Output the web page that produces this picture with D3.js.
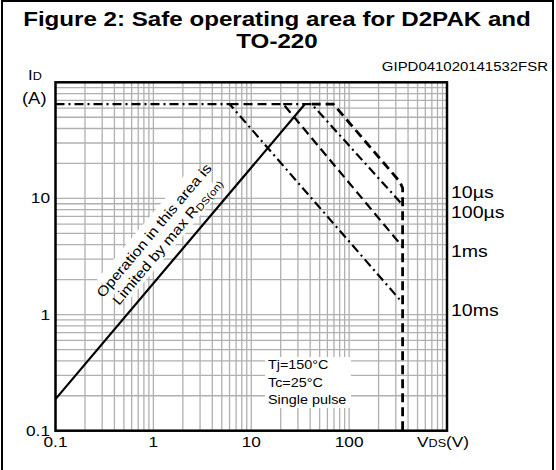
<!DOCTYPE html>
<html>
<head>
<meta charset="utf-8">
<script src="https://cdn.jsdelivr.net/npm/d3@7"></script>
<style>
  body { margin: 0; background: #fff; }
  text { font-family: "Liberation Sans", Arial, sans-serif; fill: #000; }
</style>
</head>
<body>
<div id="chart"></div>
<script>
// tick values
var xTicks = [0.1, 1, 10, 100];
var yTicks = [0.1, 1, 10];
var xTickLabels = ["0.1", "1", "10", "100"];
var yTickLabels = ["0.1", "1", "10"];

// limit lines, [VDS, ID]
var rdsLimit = [[0.1, 0.187], [35.4, 65]];
var curve10us = [[41.4, 65], [68.9, 65], [330, 13.9], [352, 12.3], [352, 0.1]];
var curve100us = [[21.2, 65], [41.4, 65], [352, 8.8]];
var curve1ms = [[6.0, 65], [21.2, 65], [352, 3.83]];
var curve10ms = [[0.1, 65], [6.0, 65], [352, 1.26]];

// curve labels on the right
var pulseLabels = ["10\u00b5s", "100\u00b5s", "1ms", "10ms"];
var pulseLabelY = [11.4, 7.66, 3.53, 1.1];

var svgWidth = 556, svgHeight = 470;
var sx = 1.15; // the reference text is stretched sideways

var svg = d3.select("#chart").append("svg")
  .attr("width", svgWidth)
  .attr("height", svgHeight);

var x = d3.scaleLog().domain([0.1, 1000]).range([55.5, 447]);
var y = d3.scaleLog().domain([0.1, 100]).range([430.7, 82.3]);

function label(x0, y0, size, anchor, weight) {
  return svg.append("text")
    .attr("transform", `translate(${x0},${y0}) scale(${sx},1)`)
    .attr("font-size", size)
    .attr("font-weight", weight || "normal")
    .attr("text-anchor", anchor || "start");
}

// outer frame
svg.append("rect")
  .attr("x", 2).attr("y", 1)
  .attr("width", 551).attr("height", 490)
  .attr("fill", "none").attr("stroke", "#000").attr("stroke-width", 2);

// title
label(277, 26, 21, "middle", "bold").text("Figure 2: Safe operating area for D2PAK and");
label(277, 48, 21, "middle", "bold").text("TO-220");
label(548, 71, 13, "end").text("GIPD041020141532FSR");

// grid
var gridX = [], gridY = [];
[0.1, 1, 10, 100].forEach(function(d) {
  for (var m = 1; m <= 9; m++) gridX.push(d * m);
});
[0.1, 1, 10].forEach(function(d) {
  for (var m = 1; m <= 9; m++) gridY.push(d * m);
});

var grid = svg.append("g")
  .attr("stroke", "#b0b0b0")
  .attr("stroke-width", 1.3);

grid.selectAll(".gx").data(gridX).enter().append("line")
  .attr("x1", d => x(d)).attr("x2", d => x(d))
  .attr("y1", y.range()[0]).attr("y2", y.range()[1]);

grid.selectAll(".gy").data(gridY).enter().append("line")
  .attr("y1", d => y(d)).attr("y2", d => y(d))
  .attr("x1", x.range()[0]).attr("x2", x.range()[1]);

// white boxes behind the notes
svg.append("rect")
  .attr("x", 265).attr("y", 357)
  .attr("width", 86).attr("height", 51)
  .attr("fill", "#fff");

var note = svg.append("g")
  .attr("transform", "translate(163,238) rotate(-49.9)");
note.append("rect")
  .attr("x", -74).attr("y", -24)
  .attr("width", 148).attr("height", 38)
  .attr("fill", "#fff");

// limit lines
var line = d3.line()
  .x(d => x(d[0]))
  .y(d => y(d[1]));

var curves = svg.append("g")
  .attr("fill", "none")
  .attr("stroke", "#000")
  .attr("stroke-width", 2.2);

curves.append("path").datum(rdsLimit)
  .attr("d", line);

curves.append("path").datum(curve10ms)
  .attr("d", line)
  .attr("stroke-dasharray", "9,4,2,4");

curves.append("path").datum(curve1ms)
  .attr("d", line)
  .attr("stroke-dasharray", "9,5");

curves.append("path").datum(curve100us)
  .attr("d", line)
  .attr("stroke-dasharray", "9,4,2,4");

curves.append("path").datum(curve10us)
  .attr("d", line)
  .attr("stroke-width", 2.8)
  .attr("stroke-dasharray", "9,5");

// plot frame
svg.append("rect")
  .attr("x", x.range()[0]).attr("y", y.range()[1])
  .attr("width", x.range()[1] - x.range()[0])
  .attr("height", y.range()[0] - y.range()[1])
  .attr("fill", "none").attr("stroke", "#000").attr("stroke-width", 2.5);

// tick labels
xTicks.forEach(function(d, i) {
  label(x(d), 447, 15, "middle").text(xTickLabels[i]);
});
yTicks.forEach(function(d, i) {
  label(50, y(d) + 5, 15, "end").text(yTickLabels[i]);
});

// axis titles
var idLabel = label(28, 80, 14.5, "start");
idLabel.append("tspan").text("I");
idLabel.append("tspan").attr("font-size", 11).text("D");
label(22, 104, 16, "start").text("(A)");

var vdsLabel = label(417, 447, 15, "start");
vdsLabel.append("tspan").text("V");
vdsLabel.append("tspan").attr("font-size", 11).text("DS");
vdsLabel.append("tspan").text("(V)");

// pulse labels
pulseLabels.forEach(function(s, i) {
  label(451, y(pulseLabelY[i]) + 6, 17, "start").text(s);
});

// test conditions
label(268, 369, 12.5, "start").text("Tj=150\u00b0C");
label(268, 387, 12.5, "start").text("Tc=25\u00b0C");
label(268, 404, 12.5, "start").text("Single pulse");

// rotated note
note.append("text")
  .attr("transform", `translate(0,-7) scale(${sx},1)`)
  .attr("font-size", 14)
  .attr("text-anchor", "middle")
  .text("Operation in this area is");
var lim = note.append("text")
  .attr("transform", `translate(0,10) scale(${sx},1)`)
  .attr("font-size", 14)
  .attr("text-anchor", "middle");
lim.append("tspan").text("Limited by max R");
lim.append("tspan").attr("font-size", 10).attr("dy", 2).text("DS(on)");
</script>
</body>
</html>
